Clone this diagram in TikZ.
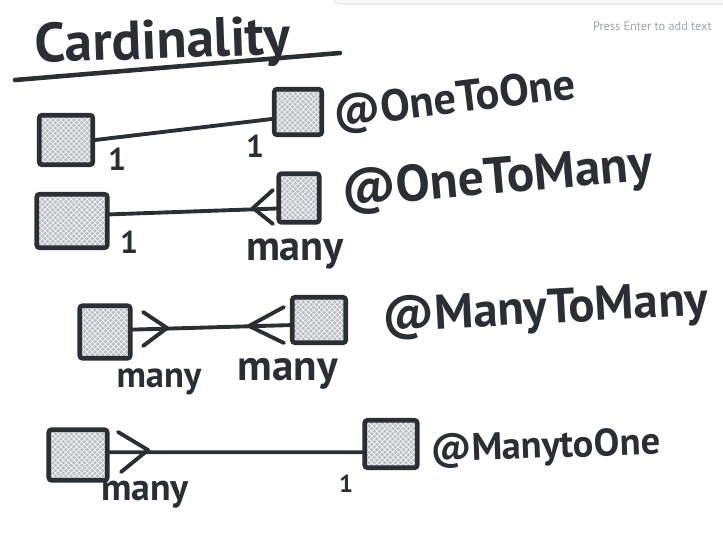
\documentclass[tikz,border=0pt]{standalone}
\usepackage{fontspec}
\setmainfont{PT Sans}
\usetikzlibrary{positioning,patterns}
\definecolor{ink}{HTML}{2B2F33}
\definecolor{hatch}{HTML}{BCBFC3}
\definecolor{hint}{HTML}{9EA2A7}
\tikzset{%
	entity/.style={rectangle, draw=ink, line width=2.6pt, rounded corners=1.5pt, inner sep=0pt,
		preaction={fill=hatch}, pattern=crosshatch, pattern color=white!85!hatch},
	link/.style={draw=ink, line width=2.2pt, line cap=round},
	crowfoot/.style={draw=ink, line width=2.2pt, line cap=round, line join=round},
	cardtext/.style={text=ink, anchor=base, inner sep=0pt},
	annot/.style={text=ink, anchor=base west, inner sep=0pt}}

\begin{document}
\begin{tikzpicture}[x=0.02cm, y=-0.02cm]
	\useasboundingbox (0,0) rectangle (723,534);
	% edge of the toolbar
	\fill[gray!5, rounded corners=4pt] (333,-12) rectangle (740,4);
	\draw[gray!20, line width=0.6pt, rounded corners=4pt] (333,-12) -- (333,4) -- (740,4);
	\node[text=hint, anchor=east, inner sep=0pt, font=\fontsize{7}{8}\selectfont] (hint) at (712,26) {Press Enter to add text};

	\node[annot, rotate=2, font=\bfseries\fontsize{31.5}{31.5}\selectfont] (title) at (35,63) {Cardinality};
	\draw[link, line width=2.6pt] (15,80) -- (340,53);

	% one to one
	\node[entity, minimum width=1.07cm, minimum height=0.99cm] (oneL) at (66,140) {};
	\node[entity, minimum width=0.95cm, minimum height=0.91cm] (oneR) at (298,112) {};
	\path[link] (oneL.east) edge (oneR.-165);
	\node[cardtext, font=\bfseries\fontsize{18}{18}\selectfont] (oneLc) at (117,170) {1};
	\node[cardtext, font=\bfseries\fontsize{18}{18}\selectfont] (oneRc) at (255,157) {1};
	\node[annot, rotate=7, font=\bfseries\fontsize{25.3}{25.3}\selectfont] (oneTxt) at (335,128) {@OneToOne};

	% one to many
	\node[entity, minimum width=1.41cm, minimum height=1.07cm] (omL) at (72,221) {};
	\node[entity, minimum width=0.81cm, minimum height=0.97cm] (omR) at (299,198) {};
	\path[link] (omL.10) edge (omR.-155);
	\draw[crowfoot] (omR.west) ++(-3.5,-8) -- ++(-20,18) -- ++(20,16);
	\node[cardtext, font=\bfseries\fontsize{18}{18}\selectfont] (omLc) at (129,253) {1};
	\node[cardtext, font=\bfseries\fontsize{24}{24}\selectfont] (omRc) at (295,260) {many};
	\node[annot, rotate=5, font=\bfseries\fontsize{29.2}{29.2}\selectfont] (omTxt) at (343,207) {@OneToMany};

	% many to many
	\node[entity, minimum width=1.01cm, minimum height=1.05cm] (mmL) at (105,332) {};
	\node[entity, minimum width=1.07cm, minimum height=0.91cm] (mmR) at (319,320) {};
	\path[link] (mmL.5) edge (mmR.-170);
	\draw[crowfoot] (mmL.east) ++(10.5,-20) -- ++(24,16) -- ++(-24,18);
	\draw[crowfoot] (mmR.west) ++(-6,-13) -- ++(-35,19) -- ++(35,17);
	\node[cardtext, font=\bfseries\fontsize{20.8}{20.8}\selectfont] (mmLc) at (159,387) {many};
	\node[cardtext, font=\bfseries\fontsize{24.5}{24.5}\selectfont] (mmRc) at (288,380) {many};
	\node[annot, rotate=3, font=\bfseries\fontsize{27.8}{27.8}\selectfont] (mmTxt) at (383,332) {@ManyToMany};

	% many to one
	\node[entity, minimum width=1.17cm, minimum height=1.01cm] (moL) at (78,455) {};
	\node[entity, minimum width=1.05cm, minimum height=0.95cm] (moR) at (391,444) {};
	\path[link] (moL.5) edge (moR.-164);
	\draw[crowfoot] (moL.east) ++(8.5,-23) -- ++(30,18) -- ++(-27,22);
	\node[cardtext, font=\bfseries\fontsize{21.5}{21.5}\selectfont] (moLc) at (145,500) {many};
	\node[cardtext, font=\bfseries\fontsize{14}{14}\selectfont] (moRc) at (346,492) {1};
	\node[annot, rotate=2, font=\bfseries\fontsize{21.9}{21.9}\selectfont] (moTxt) at (431,462) {@ManytoOne};
\end{tikzpicture}
\end{document}
